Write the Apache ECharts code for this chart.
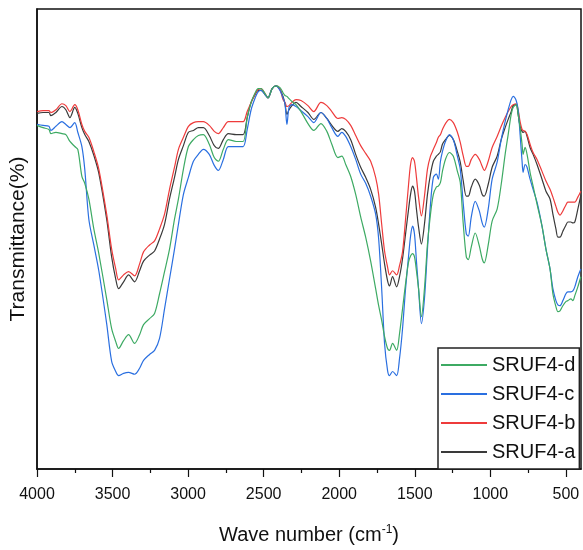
<!DOCTYPE html>
<html>
<head>
<meta charset="utf-8">
<script src="https://cdn.jsdelivr.net/npm/echarts@6/dist/echarts.min.js"></script>
<style>
  html, body { margin: 0; padding: 0; background: #fff; }
  #chart { width: 583px; height: 550px; }
</style>
</head>
<body>
<div id="chart"></div>
<script>
// wavenumbers (cm-1), shared by all spectra
var waveNumbers = [
  4000, 3960, 3921, 3908, 3875, 3835, 3809, 3782, 3750, 3730,
  3703, 3684, 3657, 3624, 3591, 3539, 3506, 3479, 3460, 3427,
  3394, 3354, 3321, 3295, 3255, 3222, 3189, 3156, 3123, 3090,
  3064, 3031, 2998, 2965, 2932, 2899, 2860, 2827, 2800, 2767,
  2734, 2682, 2636, 2609, 2583, 2556, 2537, 2517, 2491, 2471,
  2444, 2418, 2392, 2372, 2359, 2346, 2332, 2313, 2286, 2253,
  2207, 2168, 2121, 2082, 2049, 2009, 1983, 1957, 1924, 1891,
  1858, 1825, 1792, 1759, 1739, 1719, 1700, 1680, 1667, 1647,
  1620, 1601, 1581, 1561, 1541, 1528, 1515, 1502, 1489, 1475,
  1456, 1436, 1416, 1396, 1377, 1357, 1344, 1330, 1317, 1297,
  1271, 1245, 1218, 1199, 1179, 1159, 1146, 1126, 1100, 1073,
  1054, 1040, 1014, 988, 955, 928, 902, 882, 862, 849,
  829, 816, 803, 790, 783, 770, 757, 737, 717, 691,
  658, 632, 605, 586, 566, 553, 539, 520, 500, 487,
  467, 454, 441, 421, 401
];

// transmittance (arbitrary %)
var srufA = [
  77.3, 77.5, 77.5, 76.8, 77.5, 78.8, 78.1, 76.4, 78.6, 77.3,
  74.2, 72.7, 71.2, 68.2, 64.3, 54.3, 46.1, 41.3, 39.2, 40.7,
  42.2, 40.7, 43.1, 45.2, 46.5, 47.4, 50.0, 53.2, 58.7, 63.4,
  67.3, 70.3, 73.2, 73.6, 74.2, 74.2, 72.5, 70.3, 69.7, 71.6,
  72.9, 72.7, 72.7, 76.4, 79.7, 81.4, 82.3, 82.3, 81.4, 80.7,
  82.7, 83.3, 82.5, 81.0, 79.4, 77.1, 78.1, 79.0, 79.7, 78.8,
  77.5, 76.0, 77.5, 76.2, 74.7, 73.4, 74.0, 73.4, 71.6, 68.4,
  65.6, 63.4, 60.8, 56.9, 53.2, 48.9, 44.6, 40.9, 39.8, 41.8,
  39.6, 41.8, 45.7, 51.1, 56.5, 59.7, 61.5, 60.4, 56.5, 52.6,
  48.9, 53.2, 59.7, 64.1, 66.9, 68.0, 68.4, 69.0, 70.6, 71.6,
  72.5, 71.6, 69.0, 66.7, 62.6, 59.3, 59.3, 61.3, 63.0, 61.7,
  59.7, 59.3, 61.9, 65.6, 68.0, 71.6, 74.2, 76.0, 77.7, 79.0,
  79.2, 77.1, 74.5, 73.4, 73.2, 73.4, 72.3, 69.9, 68.4, 66.2,
  63.0, 60.4, 58.7, 55.4, 52.2, 50.4, 50.4, 51.7, 53.0, 53.7,
  53.7, 53.5, 53.7, 56.5, 59.5
];
var srufB = [
  77.7, 77.9, 77.9, 77.5, 78.1, 79.4, 79.0, 77.7, 79.2, 78.1,
  74.9, 73.4, 72.1, 69.0, 65.2, 55.4, 47.8, 43.5, 41.1, 42.2,
  42.9, 42.0, 44.6, 47.2, 48.7, 49.6, 52.2, 55.4, 60.8, 65.6,
  69.5, 72.1, 74.5, 75.3, 75.5, 75.5, 74.7, 73.4, 72.9, 74.2,
  75.5, 75.5, 75.5, 77.7, 79.7, 81.6, 82.5, 82.7, 81.6, 80.7,
  82.7, 83.3, 82.5, 80.3, 79.7, 78.8, 79.0, 79.7, 80.3, 80.1,
  79.0, 77.7, 79.7, 79.0, 77.7, 76.2, 76.4, 76.0, 74.7, 72.5,
  70.3, 68.6, 66.9, 63.4, 59.7, 53.2, 47.4, 43.9, 42.2, 43.1,
  42.2, 44.2, 47.2, 54.3, 61.9, 66.2, 67.7, 66.9, 63.4, 59.1,
  55.0, 59.3, 65.2, 68.0, 69.5, 71.0, 72.1, 72.7, 73.8, 75.1,
  76.0, 75.3, 73.2, 71.0, 68.0, 65.8, 65.8, 67.3, 68.4, 67.3,
  65.8, 64.9, 66.9, 69.9, 72.3, 74.5, 76.4, 77.7, 78.8, 79.2,
  79.4, 78.1, 75.5, 73.8, 73.6, 73.4, 72.7, 70.6, 68.8, 67.3,
  64.7, 62.6, 60.8, 59.1, 57.1, 55.8, 55.2, 56.1, 57.4, 58.0,
  58.0, 58.0, 58.0, 59.1, 60.4
];
var srufC = [
  74.9, 74.7, 74.5, 73.6, 74.5, 75.5, 74.9, 74.2, 75.3, 73.2,
  70.1, 65.2, 54.3, 48.7, 43.1, 31.6, 23.4, 21.2, 20.3, 20.8,
  21.0, 20.6, 21.9, 23.6, 24.9, 25.8, 28.4, 34.8, 41.3, 47.8,
  53.2, 59.7, 63.4, 66.9, 68.4, 69.5, 68.4, 66.0, 64.9, 67.3,
  70.1, 70.1, 70.1, 73.8, 78.1, 80.7, 82.0, 82.3, 81.4, 80.7,
  82.7, 83.3, 82.3, 80.7, 79.4, 74.9, 78.6, 79.2, 78.8, 77.9,
  76.6, 75.3, 77.5, 76.2, 74.2, 72.3, 73.2, 72.3, 70.1, 67.3,
  64.1, 62.1, 59.3, 55.4, 50.0, 39.2, 27.3, 21.4, 20.3, 21.2,
  20.3, 24.0, 30.5, 39.2, 46.3, 50.6, 52.8, 51.1, 45.2, 39.2,
  31.6, 37.0, 47.8, 57.6, 63.4, 64.1, 63.0, 66.9, 69.0, 71.2,
  72.7, 71.6, 68.0, 65.2, 57.6, 51.1, 50.6, 54.8, 58.2, 56.1,
  53.5, 52.6, 56.5, 63.0, 66.7, 71.6, 75.5, 78.1, 80.3, 81.0,
  80.1, 78.1, 72.7, 66.9, 64.5, 66.2, 65.6, 63.0, 60.8, 58.0,
  52.8, 47.8, 43.5, 39.2, 36.6, 35.7, 35.5, 36.6, 38.1, 38.5,
  38.5, 38.7, 39.6, 41.8, 43.5
];
var srufD = [
  74.7, 74.2, 73.8, 72.9, 73.2, 72.9, 72.7, 71.2, 70.1, 69.5,
  63.6, 62.1, 58.7, 52.2, 46.8, 37.0, 30.5, 27.7, 26.2, 27.9,
  29.2, 27.3, 29.2, 31.4, 32.7, 33.8, 38.1, 42.9, 47.8, 54.3,
  58.7, 65.2, 70.1, 71.6, 72.5, 72.7, 70.6, 67.7, 66.9, 69.5,
  71.6, 71.2, 71.2, 76.4, 79.7, 81.8, 82.7, 82.7, 81.6, 80.7,
  82.7, 83.3, 82.9, 81.8, 81.2, 81.0, 80.5, 79.9, 79.2, 77.7,
  75.1, 73.6, 75.1, 73.4, 70.6, 67.7, 68.0, 66.2, 63.6, 59.7,
  54.8, 50.4, 45.2, 39.2, 35.5, 32.3, 28.8, 26.2, 25.8, 27.3,
  25.8, 29.4, 34.8, 40.3, 45.0, 46.3, 46.8, 46.1, 43.1, 39.2,
  33.1, 39.2, 48.9, 55.4, 59.7, 61.3, 61.5, 62.3, 64.7, 67.3,
  68.8, 68.0, 64.7, 62.3, 53.2, 46.1, 45.5, 48.3, 51.3, 48.5,
  45.7, 44.8, 48.7, 53.9, 56.5, 61.9, 68.4, 72.7, 77.1, 78.6,
  79.2, 77.1, 74.2, 70.6, 68.4, 69.9, 68.4, 64.5, 61.5, 57.6,
  52.8, 47.8, 43.5, 38.1, 35.3, 34.2, 34.4, 35.5, 36.4, 36.6,
  37.0, 36.6, 37.7, 39.6, 41.8
];

var majorTicks = [4000, 3500, 3000, 2500, 2000, 1500, 1000, 500];
var minorTicks = [3750, 3250, 2750, 2250, 1750, 1250, 750];

var seriesNames = ['SRUF4-a', 'SRUF4-b', 'SRUF4-c', 'SRUF4-d'];
var seriesColors = ['#3a3a3a', '#ee3b3b', '#2a6fe0', '#3daa63'];
var seriesValues = [srufA, srufB, srufC, srufD];

function pairs(ys) {
  return waveNumbers.map(function (x, i) { return [x, ys[i]]; });
}

var font = 'Liberation Sans, Arial, sans-serif';
var chart = echarts.init(document.getElementById('chart'), null, { renderer: 'canvas' });

var series = seriesNames.map(function (name, i) {
  return {
    name: name,
    type: 'line',
    data: pairs(seriesValues[i]),
    showSymbol: false,
    symbol: 'none',
    smooth: 0.3,
    lineStyle: { color: seriesColors[i], width: 1.2 },
    itemStyle: { color: seriesColors[i] },
    xAxisIndex: 0,
    yAxisIndex: 0
  };
});

var option = {
  backgroundColor: '#fff',
  animation: false,
  grid: {
    left: 35, right: 2, top: 9, bottom: 79,
    show: true, borderColor: '#111', borderWidth: 1.5
  },
  legend: {
    data: ['SRUF4-d', 'SRUF4-c', 'SRUF4-b', 'SRUF4-a'],
    orient: 'vertical',
    left: 438, top: 348,
    padding: [6, 4, 6, 3],
    itemGap: 7,
    itemWidth: 46,
    itemHeight: 2,
    icon: 'rect',
    borderColor: '#222',
    borderWidth: 1.5,
    backgroundColor: '#fff',
    textStyle: { fontFamily: font, fontSize: 20, color: '#111', lineHeight: 22 }
  },
  xAxis: [{
    type: 'value',
    inverse: true,
    min: 400, max: 4000,
    name: 'Wave number (cm{sup|-1})',
    nameLocation: 'middle',
    nameGap: 55,
    nameTextStyle: {
      fontFamily: font, fontSize: 20, color: '#111',
      rich: { sup: { fontFamily: font, fontSize: 12, color: '#111', padding: [0, 0, 10, 0] } }
    },
    axisLine: { onZero: false, lineStyle: { color: '#111', width: 1.5 } },
    axisTick: { show: true, inside: false, length: 8, customValues: majorTicks, lineStyle: { color: '#111', width: 1.2 } },
    axisLabel: {
      customValues: majorTicks, margin: 18, fontFamily: font, fontSize: 16, color: '#111',
      formatter: function (v) { return String(v); }
    },
    splitLine: { show: false }
  }, {
    type: 'value',
    inverse: true,
    min: 400, max: 4000,
    position: 'bottom',
    axisLine: { show: false },
    axisTick: { show: true, inside: false, length: 4, customValues: minorTicks, lineStyle: { color: '#111', width: 1.2 } },
    axisLabel: { show: false },
    splitLine: { show: false }
  }],
  yAxis: {
    type: 'value',
    min: 0, max: 100,
    name: 'Transmittance(%)',
    nameLocation: 'middle',
    nameGap: 8,
    nameTextStyle: { fontFamily: font, fontSize: 21, color: '#111' },
    axisLine: { show: true, lineStyle: { color: '#111', width: 1.5 } },
    axisTick: { show: false },
    axisLabel: { show: false },
    splitLine: { show: false }
  },
  series: series
};

chart.setOption(option);
</script>
</body>
</html>
